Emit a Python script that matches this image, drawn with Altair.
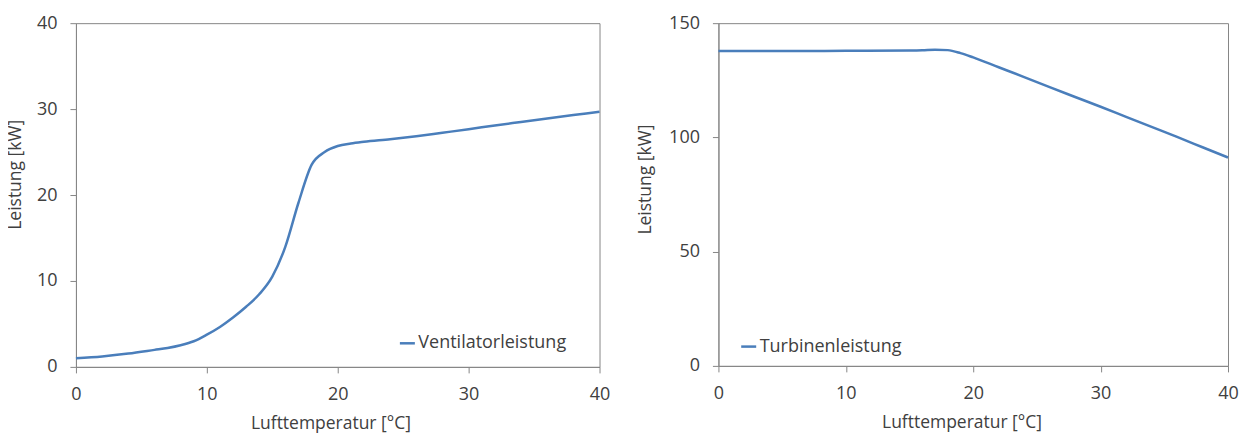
import altair as alt
import pandas as pd

# Left panel: fan power vs air temperature
temp_fan = [0, 2, 4, 6, 7, 8, 9, 10, 11, 12, 13, 14, 15, 16, 17, 18, 19, 20, 21, 22, 24, 26, 28, 30, 32, 34, 36, 38, 40]
power_fan = [1.0, 1.22, 1.55, 1.98, 2.2, 2.52, 2.98, 3.75, 4.65, 5.75, 7.0, 8.45, 10.5, 14.0, 19.1, 23.5, 25.0, 25.7, 26.0, 26.2, 26.5, 26.85, 27.25, 27.65, 28.1, 28.5, 28.9, 29.3, 29.7]
name_fan = "Ventilatorleistung"

# Right panel: turbine power vs air temperature
temp_turb = [0, 5, 10, 15, 16, 17, 18, 19, 20, 22, 24, 26, 28, 30, 32, 34, 36, 38, 40]
power_turb = [137.8, 137.8, 137.9, 138.0, 138.1, 138.4, 138.2, 136.9, 135.0, 130.7, 126.4, 122.0, 117.7, 113.4, 109.0, 104.6, 100.2, 95.7, 91.2]
name_turb = "Turbinenleistung"

x_ticks = [0, 10, 20, 30, 40]

FONT = "Open Sans"
TEXT = "#404040"
GRAY = "#868686"
BLUE = "#4a7ebb"


def panel(temps, powers, name, ymax, ystep, w, h, lx, ly, ytx, yty, xtx):
    df = pd.DataFrame({"t": temps, "p": powers, "s": [name] * len(temps)})
    return alt.Chart(df).mark_line(interpolate="monotone", strokeWidth=2.5).encode(
        x=alt.X("t:Q",
                scale=alt.Scale(domain=[0, 40], nice=False, zero=False),
                axis=alt.Axis(values=x_ticks, title="Lufttemperatur [°C]",
                              titleX=xtx, titleY=62, titleBaseline="alphabetic",
                              labelPadding=13, tickSize=6, grid=False, labelFlush=False)),
        y=alt.Y("p:Q",
                scale=alt.Scale(domain=[0, ymax], nice=False),
                axis=alt.Axis(values=list(range(0, ymax + 1, ystep)), title="Leistung [kW]",
                              titleX=ytx, titleY=yty, titleBaseline="bottom", titleAngle=270,
                              labelPadding=13, tickSize=6, grid=False, labelFlush=False)),
        color=alt.Color("s:N", scale=alt.Scale(range=[BLUE]),
                        legend=alt.Legend(title=None, orient="none", legendX=lx, legendY=ly,
                                          symbolType="stroke", symbolSize=225,
                                          symbolStrokeWidth=2.5, labelFontSize=18,
                                          labelFont=FONT, labelColor=TEXT,
                                          labelOffset=2, padding=0)),
    ).properties(width=w, height=h)


left = panel(temp_fan, power_fan, name_fan, 40, 10, 524, 344, 322.7, 311.4, -51, 151.2, 254.7)
right = panel(temp_turb, power_turb, name_turb, 150, 50, 510, 343, 21.3, 314.7, -64, 156, 243.3)

chart = alt.hconcat(left, right, spacing=25).resolve_scale(color="independent").resolve_legend(
    color="independent"
).properties(
    padding={"left": -2, "top": 5, "right": 0, "bottom": 0},
    background="white",
).configure_view(
    stroke=GRAY, strokeWidth=1
).configure_axis(
    grid=False,
    labelFont=FONT, labelFontSize=18, labelColor=TEXT,
    titleFont=FONT, titleFontSize=17.5, titleFontWeight="normal", titleColor=TEXT,
    domainColor=GRAY, tickColor=GRAY, domainWidth=1, tickWidth=1,
)

chart.save("out.html", embed_options={"renderer": "svg", "actions": False})
